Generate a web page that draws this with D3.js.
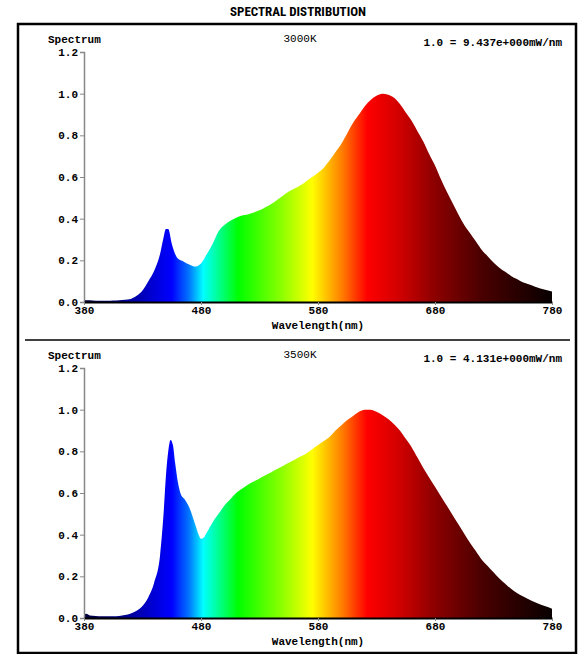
<!DOCTYPE html>
<html lang="en">
<head>
  <meta charset="UTF-8" />
  <title>Spectral Distribution</title>
  <style>
    html, body { margin: 0; padding: 0; background: #fff; overflow: hidden; }
    svg { display: block; }
    .mono { font-family: "Liberation Mono", "DejaVu Sans Mono", monospace; font-size: 11px; fill: #000; }
    .bold { font-weight: bold; }
    .title { font-family: "Liberation Sans Narrow", "Roboto", sans-serif; font-stretch: condensed; font-weight: bold; font-size: 13px; }
  </style>
  <script src="https://d3js.org/d3.v7.min.js"></script>
</head>
<body>
<svg id="chart" width="579" height="654"></svg>
<script>
  // wavelengths (nm) and relative power for the two lamps
  const wl3000 = [380,385,390,395,400,405,410,415,420,425,430,435,440,445,448,450,452,455,460,465,470,475,480,485,490,495,500,505,510,515,520,525,530,535,540,545,550,555,560,565,570,575,580,585,590,595,600,605,610,615,620,625,630,635,640,645,650,655,660,665,670,675,680,685,690,695,700,705,710,715,720,725,730,735,740,745,750,755,760,765,770,775,780];
  const val3000 = [0.01,0.008,0.006,0.006,0.006,0.007,0.008,0.011,0.015,0.03,0.055,0.10,0.15,0.23,0.31,0.35,0.35,0.28,0.21,0.195,0.18,0.17,0.185,0.23,0.28,0.34,0.37,0.39,0.405,0.415,0.42,0.43,0.44,0.455,0.47,0.49,0.51,0.53,0.545,0.56,0.58,0.60,0.62,0.645,0.68,0.72,0.76,0.81,0.86,0.90,0.94,0.97,0.99,1.0,0.995,0.98,0.95,0.91,0.87,0.82,0.77,0.71,0.655,0.59,0.53,0.475,0.42,0.37,0.33,0.29,0.25,0.22,0.19,0.165,0.145,0.125,0.11,0.095,0.085,0.075,0.065,0.058,0.05];

  const wl3500 = [380,382,385,390,395,400,405,410,415,420,425,430,435,440,445,448,450,452,454,456,458,460,463,466,470,475,478,480,483,485,490,495,500,505,510,515,520,525,530,535,540,545,550,555,560,565,570,575,580,585,590,595,600,605,610,615,620,625,630,635,640,645,650,655,660,665,670,675,680,685,690,695,700,705,710,715,720,725,730,735,740,745,750,755,760,765,770,775,780];
  const val3500 = [0.018,0.02,0.012,0.01,0.008,0.008,0.008,0.01,0.014,0.022,0.035,0.058,0.10,0.17,0.30,0.50,0.68,0.80,0.855,0.83,0.74,0.66,0.59,0.57,0.53,0.45,0.40,0.38,0.39,0.41,0.46,0.50,0.54,0.57,0.60,0.62,0.64,0.655,0.67,0.685,0.70,0.715,0.73,0.745,0.76,0.775,0.79,0.81,0.83,0.85,0.87,0.90,0.925,0.95,0.97,0.99,1.0,1.0,0.99,0.975,0.955,0.93,0.90,0.86,0.82,0.77,0.72,0.675,0.63,0.585,0.54,0.495,0.45,0.405,0.36,0.32,0.28,0.25,0.22,0.19,0.165,0.14,0.12,0.105,0.09,0.077,0.065,0.055,0.045];

  const panels = [
    { name: "3000K", scale: "1.0 = 9.437e+000mW/nm", wl: wl3000, val: val3000, top: 52 },
    { name: "3500K", scale: "1.0 = 4.131e+000mW/nm", wl: wl3500, val: val3500, top: 368 }
  ];

  const xTicks = [380, 480, 580, 680, 780];
  const yTicks = [0, 0.2, 0.4, 0.6, 0.8, 1.0, 1.2];

  // colour of each wavelength band used for the fill
  const bandWl =    [380, 415, 440, 455, 470, 482, 495, 512, 550, 575, 600, 622, 650, 680, 720, 780];
  const bandColor = ["#000038","#000090","#0000d8","#0000ff","#0078ff","#00ffff","#00ff90","#00ff00","#90ff00","#ffff00","#ff8000","#ff0000","#d00000","#8c0000","#4a0000","#080000"];

  const svg = d3.select("#chart");

  svg.append("text").attr("class", "title")
    .attr("x", 298).attr("y", 16).attr("text-anchor", "middle")
    .text("SPECTRAL DISTRIBUTION");

  svg.append("rect")
    .attr("x", 18).attr("y", 24).attr("width", 558).attr("height", 629)
    .attr("fill", "none").attr("stroke", "#000").attr("stroke-width", 2.5);

  svg.append("line")
    .attr("x1", 25).attr("x2", 570).attr("y1", 340).attr("y2", 340)
    .attr("stroke", "#000").attr("stroke-width", 1.5);

  const x = d3.scaleLinear().domain([380, 780]).range([84, 552]);

  const defs = svg.append("defs");
  const grad = defs.append("linearGradient")
    .attr("id", "spec").attr("gradientUnits", "userSpaceOnUse")
    .attr("x1", x(380)).attr("x2", x(780)).attr("y1", 0).attr("y2", 0);
  grad.selectAll("stop").data(bandWl).join("stop")
    .attr("offset", d => (d - 380) / 400)
    .attr("stop-color", (d, i) => bandColor[i]);

  panels.forEach(p => {
    const h = 250;
    const y = d3.scaleLinear().domain([0, 1.2]).range([p.top + h, p.top]);
    const g = svg.append("g");
    const data = p.wl.map((w, i) => ({ w, v: p.val[i] }));

    g.append("path")
      .datum(data)
      .attr("fill", "url(#spec)")
      .attr("d", d3.area().x(d => x(d.w)).y0(y(0)).y1(d => y(d.v)).curve(d3.curveMonotoneX));

    // y axis
    const yAxis = g.append("g").attr("transform", `translate(${x(380)},0)`)
      .call(d3.axisLeft(y).tickValues(yTicks).tickFormat(d3.format(".1f")).tickSize(4).tickPadding(2));
    yAxis.select(".domain").attr("stroke", "#888").attr("stroke-width", 1.5);
    yAxis.selectAll(".tick line").attr("stroke", "#888");
    yAxis.selectAll("text").attr("class", "mono bold").attr("fill", "#000").attr("font-size", null).attr("font-family", null);

    // x axis
    const xAxis = g.append("g").attr("transform", `translate(0,${y(0)})`)
      .call(d3.axisBottom(x).tickValues(xTicks).tickFormat(d3.format("d")).tickSize(3).tickSizeOuter(0).tickPadding(1));
    xAxis.select(".domain").attr("stroke", "#000").attr("stroke-width", 2);
    xAxis.selectAll(".tick line").attr("stroke", "#888");
    xAxis.selectAll("text").attr("class", "mono bold").attr("fill", "#000").attr("font-size", null).attr("font-family", null);

    g.append("text").attr("class", "mono bold")
      .attr("x", 48).attr("y", p.top - 9).text("Spectrum");
    g.append("text").attr("class", "mono")
      .attr("x", 300).attr("y", p.top - 10).attr("text-anchor", "middle").text(p.name);
    g.append("text").attr("class", "mono bold")
      .attr("x", 562).attr("y", p.top - 6).attr("text-anchor", "end").text(p.scale);
    g.append("text").attr("class", "mono bold")
      .attr("x", (x(380) + x(780)) / 2).attr("y", y(0) + 27).attr("text-anchor", "middle")
      .text("Wavelength(nm)");
  });
</script>
</body>
</html>
